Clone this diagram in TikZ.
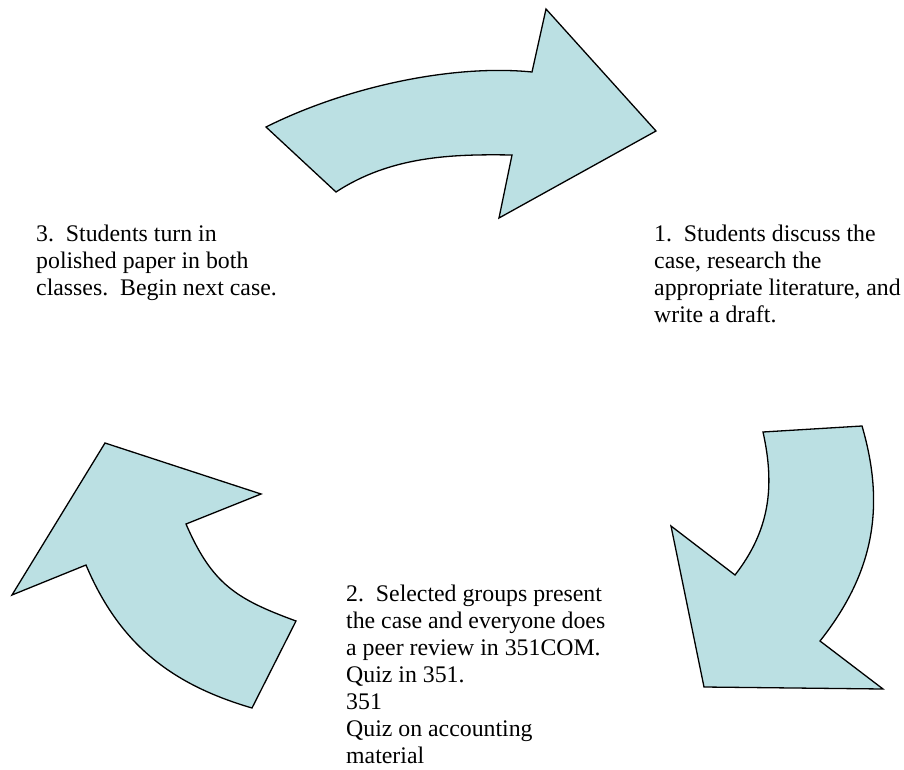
\documentclass[tikz,border=0pt]{standalone}
\usepackage{fontspec}
\setmainfont{Liberation Serif}
\definecolor{arrowfill}{RGB}{187,224,227}
\tikzset{
  bigarrow/.style={fill=arrowfill, draw=black, line width=1.3pt, line join=miter},
  label/.style={anchor=north west, inner sep=0pt, align=left, font=\fontsize{23.8}{27}\selectfont}
}
\begin{document}
\begin{tikzpicture}[x=1pt, y=-1pt]
\useasboundingbox (0,0) rectangle (904,770);
% top arrow
\draw[bigarrow] (266,127) .. controls (346,87) and (452,64) .. (532,72)
  -- (546,9) -- (656,131) -- (499,218) -- (512,155)
  .. controls (452,154) and (391,156) .. (336,192) -- cycle;
% right arrow
\draw[bigarrow] (763,432) -- (862,426)
  .. controls (886,508) and (873,574) .. (820,641)
  -- (883,689) -- (704,687) -- (671,526) -- (735,575)
  .. controls (770,530) and (775,486) .. (763,432) -- cycle;
% left arrow
\draw[bigarrow] (105,443) -- (261,494) -- (186,524)
  .. controls (212,584) and (236,599) .. (296,621)
  -- (252,708)
  .. controls (170,684) and (119,643) .. (86,565)
  -- (12,595) -- cycle;
% texts
\node[label] (t1) at (654,225) {1.\ \ Students discuss the\\case, research the\\appropriate literature, and\\write a draft.};
\node[label] (t3) at (36,225) {3.\ \ Students turn in\\polished paper in both\\classes.\ \ Begin next case.};
\node[label] (t2) at (346,585) {2.\ \ Selected groups present\\the case and everyone does\\a peer review in 351COM.\\Quiz in 351.\\351\\Quiz on accounting\\material};
\end{tikzpicture}
\end{document}
